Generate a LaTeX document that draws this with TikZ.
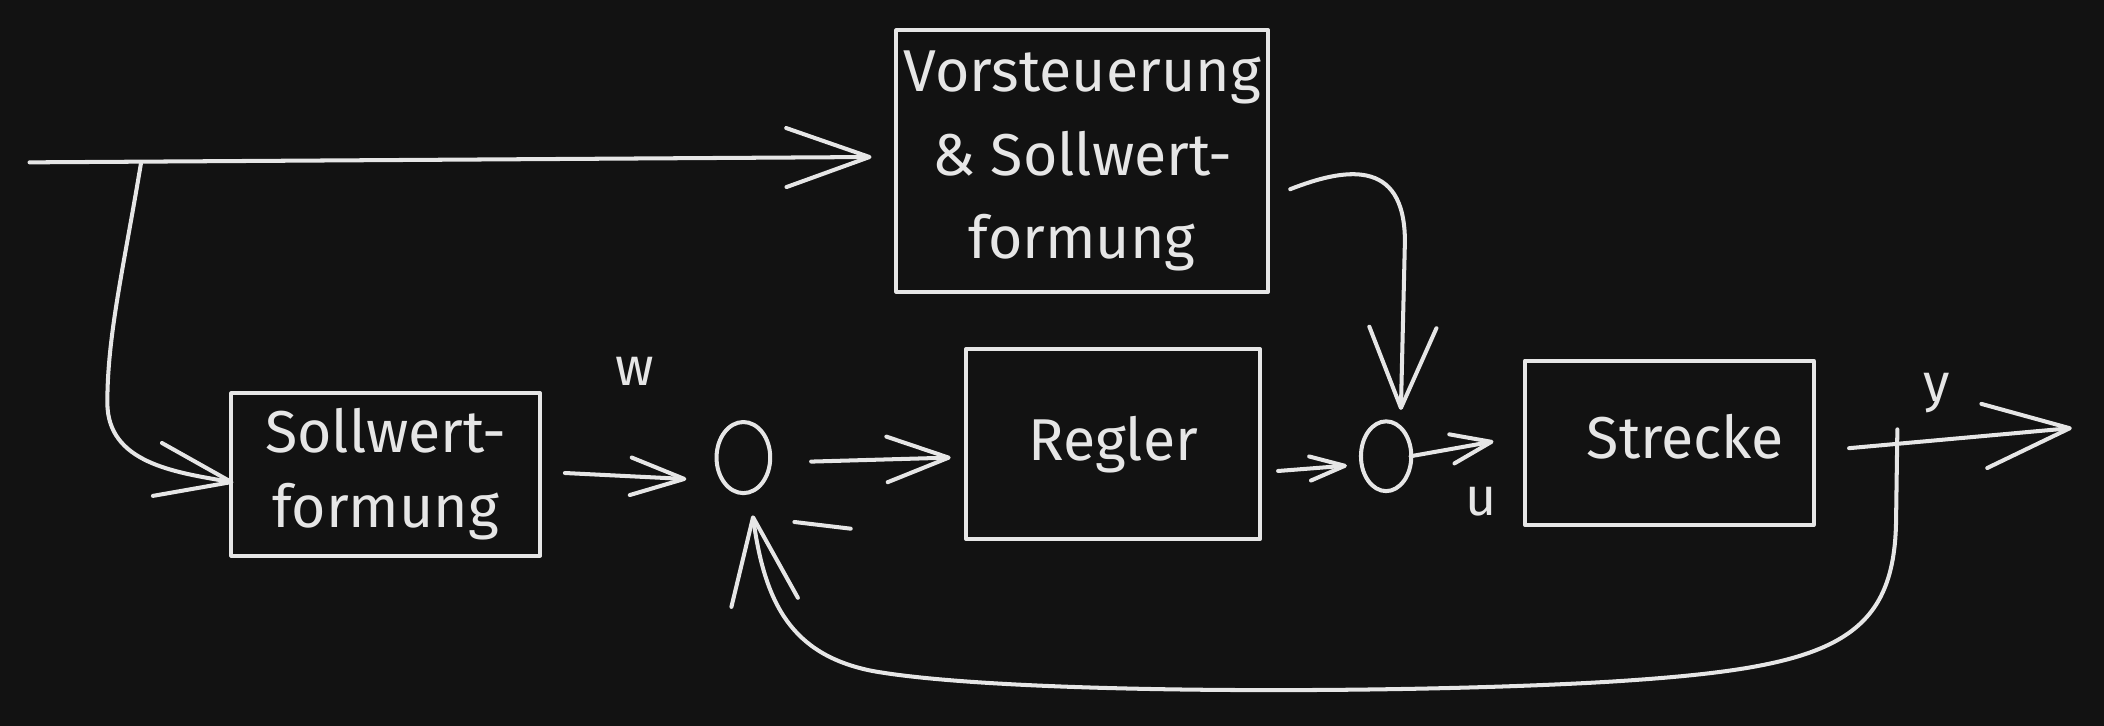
\documentclass[tikz,border=0pt]{standalone}
\usepackage{fontspec}
\setmainfont{Fira Sans}
\usetikzlibrary{arrows.meta,calc,shapes.geometric}
\definecolor{bg}{HTML}{121212}
\definecolor{ink}{HTML}{E6E6E6}
\begin{document}
\begin{tikzpicture}[x=0.5pt,y=-0.5pt,
  line/.style={draw=ink,line width=1.5pt,line cap=round,line join=round},
  box/.style={line,rectangle,inner sep=0pt,align=center,text=ink,font=\fontsize{22}{28}\selectfont},
  sum/.style={line,ellipse,inner sep=0pt},
  lbl/.style={text=ink,inner sep=0pt,font=\fontsize{20}{22}\selectfont},
  tip/.style 2 args={-{Straight Barb[length=#1pt,width=#2pt,round]}}]
\fill[bg] (0,0) rectangle (1568,541);
\useasboundingbox (0,0) rectangle (1568,541);

% blocks
\node[box,font=\fontsize{22}{31}\selectfont,minimum width=138.5pt,minimum height=97.5pt] (vor) at (806.5,120) {Vorsteuerung\\\& Sollwert-\\formung};
\node[box,minimum width=115pt,minimum height=60.5pt] (sw) at (287.5,353.5) {\raisebox{-3pt}{Sollwert-}\\\raisebox{-3pt}{formung}};
\node[box,minimum width=109.5pt,minimum height=70.75pt] (reg) at (829.5,331) {\raisebox{2pt}{Regler}};
\node[box,minimum width=107.5pt,minimum height=61.25pt] (str) at (1244,330) {\hspace*{12pt}\raisebox{5pt}{Strecke}};
\node[sum,minimum width=20pt,minimum height=26.5pt] (s1) at (554,341) {};
\node[sum,minimum width=18.75pt,minimum height=26pt] (s2) at (1033,340) {};

% labels
\node[lbl] (w) at (473,277) {w};
\node[lbl] (u) at (1104,374) {u};
\node[lbl] (y) at (1443,293) {y};

% free ends
\coordinate (in) at (22,121);
\coordinate (br) at (105,122);
\coordinate (out) at (1544,319);
\coordinate (fb) at (1414,320);
\coordinate (m1) at (592,389);
\coordinate (m2) at (634,394);

% connectors
\draw[line,tip={31}{22}] (in) -- ($(vor.west)+(-17,-3)$);
\draw[line,tip={28}{20}] (br) .. controls (92,200) and (80,250) .. (80,300)
  .. controls (80,345) and (130,352) .. ($(sw.west)+(3,6)$);
\draw[line,tip={20}{14}] ($(sw.east)+(17,-1)$) -- ($(s1.west)+(-21,16)$);
\draw[line,tip={23}{17}] ($(s1.east)+(29,3)$) -- ($(reg.west)+(-10,10)$);
\draw[line,tip={13}{9}] ($(reg.east)+(12,20)$) -- ($(s2.west)+(-9,7)$);
\draw[line,tip={15}{11}] ($(s2.east)+(-2,0)$) -- ($(str.west)+(-22,-1)$);
\draw[line,tip={30}{25}] ($(vor.east)+(15,21)$) .. controls (1000,126) and (1047,116) .. (1047,180)
  -- ($(s2.north)+(11,-7)$);
\draw[line,tip={32}{24}] ($(str.east)+(25,4)$) -- (out);
\draw[line,tip={32}{25}] (fb) -- (1413,390) .. controls (1411,480) and (1360,498) .. (1200,508)
  .. controls (1050,517) and (750,518) .. (650,500)
  .. controls (590,488) and (570,450) .. ($(s1.south)+(7,15)$);
\draw[line] (m1) -- (m2);
\end{tikzpicture}
\end{document}
